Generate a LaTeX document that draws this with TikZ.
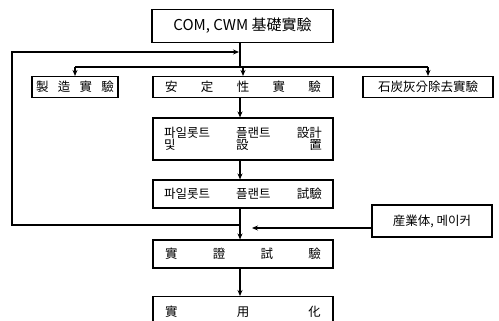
\documentclass[tikz,border=0pt]{standalone}
\usepackage{fontspec}
\newfontfamily\kr{Noto Sans CJK KR}
\usetikzlibrary{arrows.meta,calc}
\begin{document}
\begin{tikzpicture}[x=1pt,y=-1pt,
  box/.style={draw, line width=1.1pt, inner sep=0pt, align=center, font=\kr\fontsize{12.5}{14}\selectfont},
  conn/.style={line width=1.1pt},
  arr/.style={conn,-{Stealth[length=6pt,width=5pt]}}]
\useasboundingbox (0,0) rectangle (499,321);
% boxes
\node[box, minimum width=181pt, minimum height=33pt, font=\kr\fontsize{15}{17}\selectfont] (top) at (242.5,26) {COM, CWM 基礎實驗};
\node[box, minimum width=86pt, minimum height=21pt] (mfg) at (75,87) {\makebox[78pt][s]{製\hfill 造\hfill 實\hfill 驗}};
\node[box, minimum width=180pt, minimum height=21pt] (stab) at (243,87) {\makebox[156pt][s]{安\hfill 定\hfill 性\hfill 實\hfill 驗}};
\node[box, minimum width=130pt, minimum height=21pt] (ash) at (428,87) {石炭灰分除去實驗};
\node[box, minimum width=180pt, minimum height=42pt] (design) at (243,139) {\makebox[158pt][s]{파일롯트\hfill 플랜트\hfill 設計}\\[-2pt]\makebox[158pt][s]{및\hfill 設\hfill 置}};
\node[box, minimum width=180pt, minimum height=28pt] (pilot) at (243,194) {\makebox[158pt][s]{파일롯트\hfill 플랜트\hfill 試驗}};
\node[box, minimum width=180pt, minimum height=28pt] (demo) at (243,254) {\makebox[156pt][s]{實\hfill 證\hfill 試\hfill 驗}};
\node[box, minimum width=180pt, minimum height=36pt, anchor=north] (prac) at (243,296) {\raisebox{7pt}{\makebox[156pt][s]{實\hfill 用\hfill 化}}};
\node[box, minimum width=120pt, minimum height=32pt] (ind) at (432,221) {産業体, 메이커};
% connectors
\coordinate (bus) at (240,67);
\draw[conn] (top.south -| bus) -- (bus);
\draw[conn] (mfg.north |- bus) -- (ash.north |- bus);
\draw[arr] (mfg.north |- bus) -- (mfg.north);
\draw[arr] (stab.north |- bus) -- (stab.north);
\draw[arr] (ash.north |- bus) -- (ash.north);
\draw[arr] (stab.south -| bus) -- (design.north -| bus);
\draw[arr] (design.south -| bus) -- (pilot.north -| bus);
\draw[arr] (pilot.south -| bus) -- (demo.north -| bus);
\draw[arr] (demo.south -| bus) -- (prac.north -| bus);
\coordinate (j1) at (240,225);
\coordinate (c1) at (12,225);
\coordinate (c2) at (12,52);
\coordinate (j2) at (239,52);
\draw[arr] (j1) -- (c1) -- (c2) -- (j2);
\coordinate (indarr) at (252,228);
\draw[arr] (ind.west |- indarr) -- (indarr);
\end{tikzpicture}
\end{document}
